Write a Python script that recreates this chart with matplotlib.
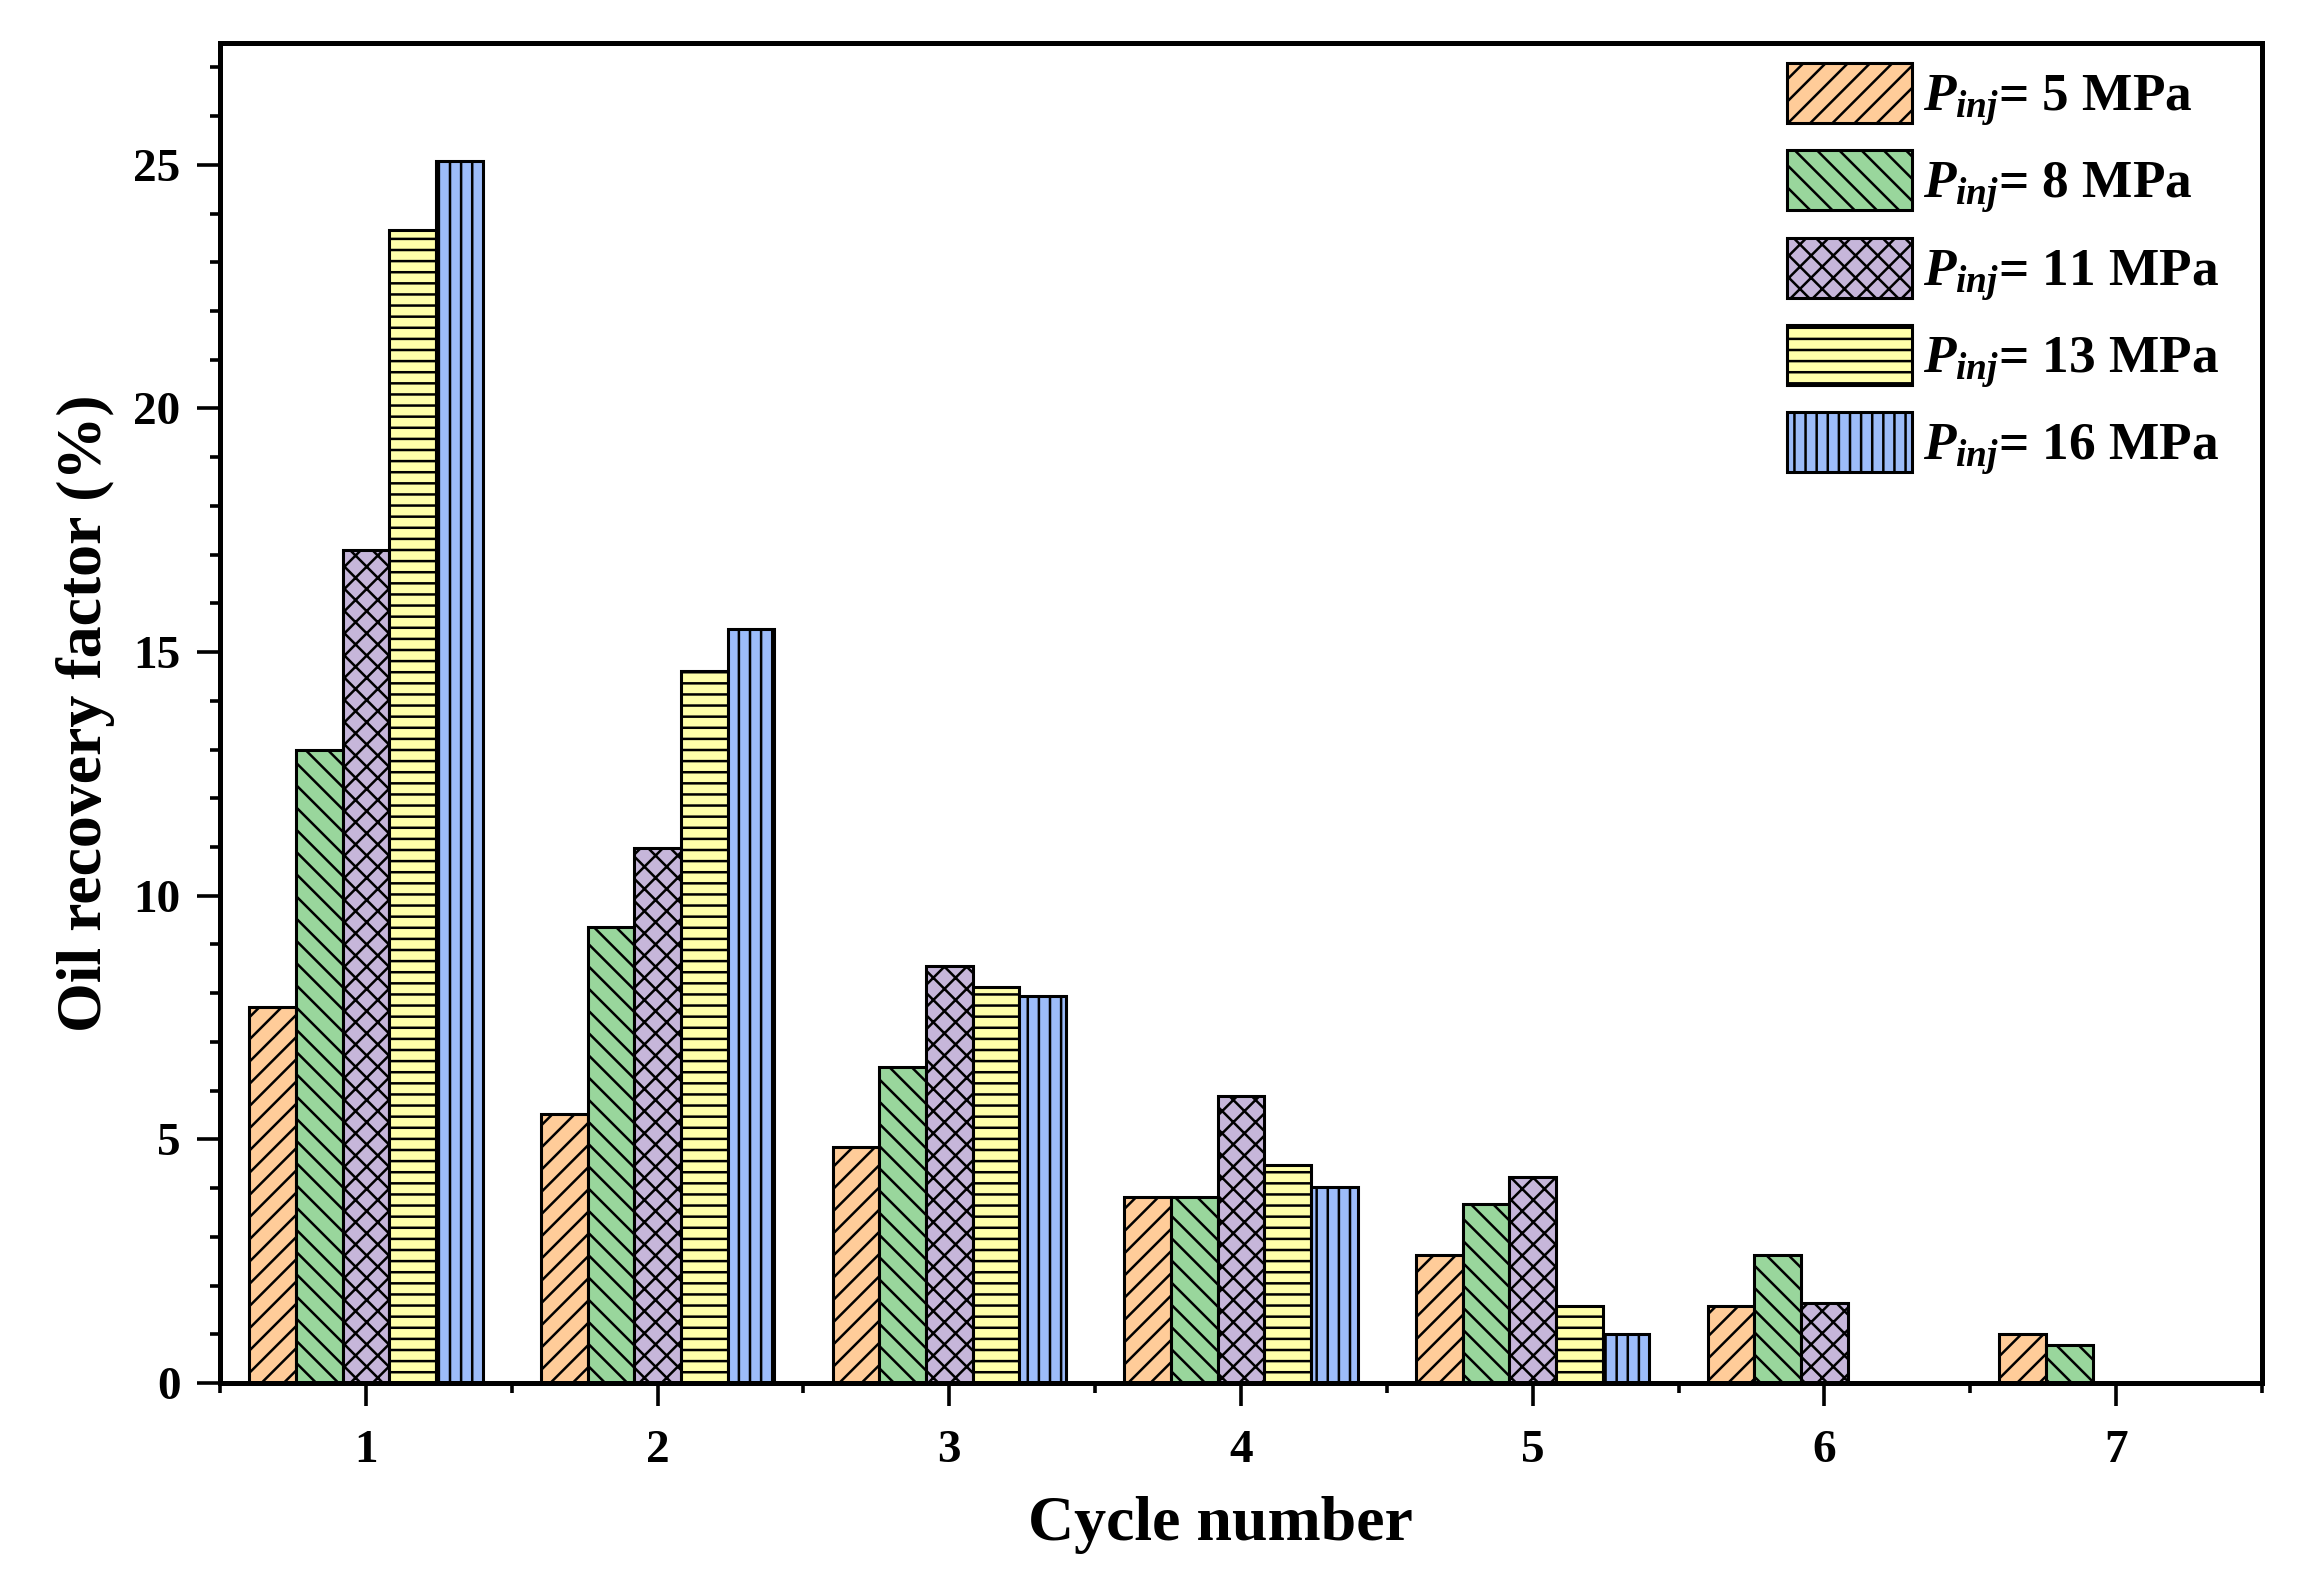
import numpy as np
import matplotlib
matplotlib.use("Agg")
import matplotlib.pyplot as plt
from matplotlib.ticker import MultipleLocator

plt.rcParams['font.family'] = ['Liberation Serif', 'DejaVu Serif']
plt.rcParams['font.weight'] = 'bold'
plt.rcParams['mathtext.fontset'] = 'custom'
plt.rcParams['mathtext.it'] = 'Liberation Serif:italic:bold'
plt.rcParams['mathtext.rm'] = 'Liberation Serif:bold'
plt.rcParams['mathtext.bf'] = 'Liberation Serif:bold'
plt.rcParams['hatch.linewidth'] = 0.9

cycles = [1, 2, 3, 4, 5, 6, 7]
series_labels = [r"$P_{inj}$= 5 MPa", r"$P_{inj}$= 8 MPa", r"$P_{inj}$= 11 MPa",
                 r"$P_{inj}$= 13 MPa", r"$P_{inj}$= 16 MPa"]
p5 = [7.71, 5.52, 4.84, 3.81, 2.62, 1.58, 1.00]
p8 = [13.00, 9.35, 6.48, 3.81, 3.67, 2.62, 0.78]
p11 = [17.10, 10.97, 8.55, 5.89, 4.23, 1.64, np.nan]
p13 = [23.67, 14.62, 8.12, 4.47, 1.58, np.nan, np.nan]
p16 = [25.08, 15.48, 7.94, 4.02, 1.00, np.nan, np.nan]
series = [p5, p8, p11, p13, p16]

colors = ['#FFCC99', '#99D69C', '#C6B6DA', '#FFFFAA', '#9CBCFA']
hatches = ['///', '\\\\\\', 'xxx', '---', '|||']

W, H, DPI = 2317, 1577, 200
fig = plt.figure(figsize=(W / DPI, H / DPI), dpi=DPI)
ax = fig.add_axes([220 / W, 1 - 1383 / H, 2042 / W, 1340 / H])

x = np.array(cycles, dtype=float)
bw = 0.16
for i, (vals, lab, c, h) in enumerate(zip(series, series_labels, colors, hatches)):
    ax.bar(x + (i - 2) * bw, vals, width=bw, color=c, edgecolor='black',
           linewidth=1.1, hatch=h, label=lab, zorder=2)

ax.set_xlim(0.5, 7.5)
ax.set_ylim(0, 27.5)
ax.xaxis.set_major_locator(MultipleLocator(1))
ax.xaxis.set_minor_locator(MultipleLocator(0.5))
ax.yaxis.set_major_locator(MultipleLocator(5))
ax.yaxis.set_minor_locator(MultipleLocator(1))
ax.tick_params(which='major', direction='out', length=8.3, width=1.3,
               labelsize=17, pad=6)
ax.tick_params(axis='x', which='major', pad=8.5)
ax.tick_params(which='minor', direction='out', length=3.6, width=1.3)
ax.tick_params(top=False, right=False, which='both')
for sp in ax.spines.values():
    sp.set_linewidth(1.8)

ax.set_xlabel('Cycle number', fontsize=23, fontweight='bold')
ax.set_ylabel('Oil recovery factor (%)', fontsize=23, fontweight='bold')
ax.xaxis.set_label_coords(0.49, -0.084)
ax.yaxis.set_label_coords(-0.0514, 0.5)

leg = ax.legend(loc='upper left', bbox_to_anchor=(0.7674, 0.985), frameon=False,
                fontsize=19.2, borderpad=0, borderaxespad=0, handlelength=2.35,
                handleheight=1.35, handletextpad=0.2, labelspacing=0.42)

fig.savefig('out.png', dpi=DPI)
